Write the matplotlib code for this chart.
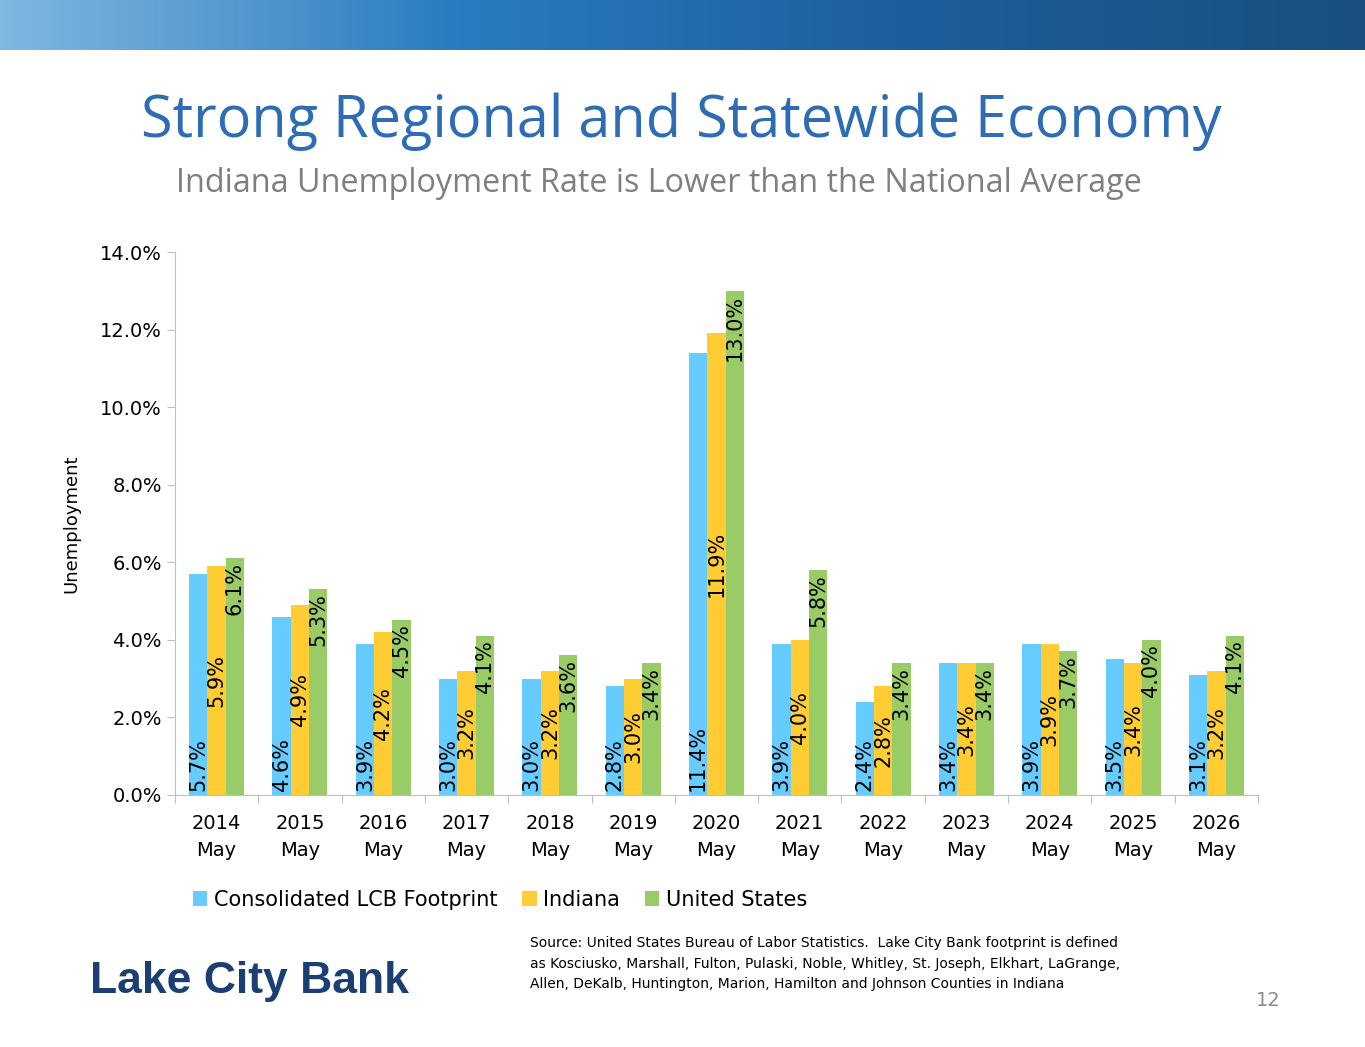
import numpy as np
import matplotlib.pyplot as plt
from matplotlib.colors import LinearSegmentedColormap

years = ['2014', '2015', '2016', '2017', '2018', '2019', '2020', '2021', '2022', '2023', '2024', '2025', '2026']
lcb = [5.7, 4.6, 3.9, 3.0, 3.0, 2.8, 11.4, 3.9, 2.4, 3.4, 3.9, 3.5, 3.1]
indiana = [5.9, 4.9, 4.2, 3.2, 3.2, 3.0, 11.9, 4.0, 2.8, 3.4, 3.9, 3.4, 3.2]
usa = [6.1, 5.3, 4.5, 4.1, 3.6, 3.4, 13.0, 5.8, 3.4, 3.4, 3.7, 4.0, 4.1]
series_names = ['Consolidated LCB Footprint', 'Indiana', 'United States']
colors = ['#66CCFF', '#FFCC33', '#99CC66']

fig = plt.figure(figsize=(13.65, 10.47), dpi=100)

# top banner
ban = fig.add_axes([0, 1 - 50 / 1047, 1, 50 / 1047])
cmap = LinearSegmentedColormap.from_list('b', ['#7FB7E0', '#2A7CC0', '#1C5E9C', '#1A4F80'])
ban.imshow(np.linspace(0, 1, 256)[None, :], aspect='auto', cmap=cmap)
ban.axis('off')

fig.text(1222 / 1365, 1 - 122 / 1047, 'Strong Regional and Statewide Economy', ha='right', va='center',
         fontsize=41.5, color='#2E6DB4', family='Open Sans')
fig.text(176 / 1365, 1 - 183 / 1047, 'Indiana Unemployment Rate is Lower than the National Average',
         ha='left', va='center', fontsize=23.3, color='#7F7F7F', family='Open Sans')

ax = fig.add_axes([175 / 1365, 1 - 795 / 1047, (1258 - 175) / 1365, (795 - 252) / 1047])
x = np.arange(len(years))
w = 0.22
for i, (vals, name, c) in enumerate(zip([lcb, indiana, usa], series_names, colors)):
    xs = x + (i - 1) * w
    ax.bar(xs, vals, w, color=c, label=name)
    for xi, v in zip(xs, vals):
        if i == 0:
            ax.text(xi, 0.1, f'{v:.1f}%', rotation=90, ha='center', va='bottom', fontsize=15)
        elif i == 1:
            ax.text(xi, v / 2, f'{v:.1f}%', rotation=90, ha='center', va='center', fontsize=15)
        else:
            ax.text(xi, v - 0.1, f'{v:.1f}%', rotation=90, ha='center', va='top', fontsize=15)

ax.set_xlim(-0.5, len(years) - 0.5)
ax.set_ylim(0, 14)
ax.set_yticks(np.arange(0, 14.1, 2))
ax.set_yticklabels([f'{t:.1f}%' for t in np.arange(0, 14.1, 2)], fontsize=14)
ax.set_xticks(np.arange(-0.5, len(years), 1), minor=False)
ax.set_xticklabels([])
ax.set_xticks(x, minor=True)
ax.set_xticklabels([f'{y}\nMay' for y in years], minor=True, fontsize=14, linespacing=1.5)
ax.tick_params(axis='x', which='minor', length=0, pad=14)
ax.tick_params(axis='x', which='major', length=6, color='#BFBFBF')
ax.tick_params(axis='y', length=6, color='#BFBFBF')
for s in ['top', 'right']:
    ax.spines[s].set_visible(False)
ax.spines['left'].set_color('#BFBFBF')
ax.spines['bottom'].set_color('#BFBFBF')
ax.set_ylabel('Unemployment', fontsize=13, labelpad=14)
ax.legend(loc='upper center', bbox_to_anchor=(0.30, -0.14), ncol=3, frameon=False,
          fontsize=15, handlelength=0.7, handleheight=0.7, columnspacing=1.2, handletextpad=0.3)

fig.text(530 / 1365, 1 - 936 / 1047,
         'Source: United States Bureau of Labor Statistics.  Lake City Bank footprint is defined\n'
         'as Kosciusko, Marshall, Fulton, Pulaski, Noble, Whitley, St. Joseph, Elkhart, LaGrange,\n'
         'Allen, DeKalb, Huntington, Marion, Hamilton and Johnson Counties in Indiana',
         ha='left', va='top', fontsize=10, linespacing=1.6)
fig.text(90 / 1365, 1 - 982 / 1047, 'Lake City Bank', ha='left', va='center', fontsize=32,
         fontweight='bold', color='#1B3F73', family='Liberation Sans')
fig.text(1268 / 1365, 1 - 1000 / 1047, '12', ha='center', va='center', fontsize=14, color='#8C8C8C')

fig.savefig('out.png', dpi=100)
